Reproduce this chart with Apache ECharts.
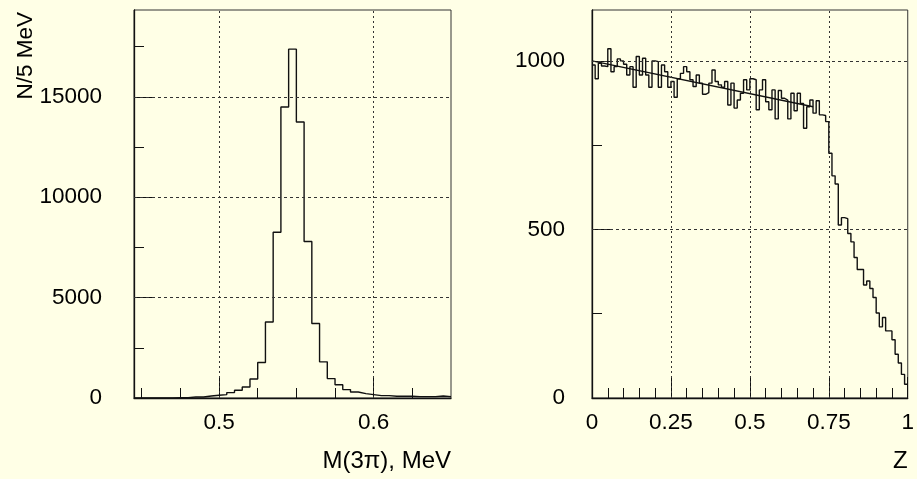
<!DOCTYPE html>
<html><head><meta charset="utf-8">
<script src="https://cdn.jsdelivr.net/npm/echarts@6/dist/echarts.min.js"></script>
<style>html,body{margin:0;padding:0;background:#ffffe6}#c{width:917px;height:479px}</style>
</head><body><div id="c"></div>
<script>
// ---- data ----
const massBinStart = 0.445;
const massBinWidth = 0.005;
const massCounts = [0, 0, 0, 0, 5, 20, 20, 50, 50, 100, 135, 170, 270, 384, 548, 950, 1765, 3789, 8260, 14500,
  17380, 13750, 7800, 3709, 1800, 967, 660, 419, 300, 219, 170, 120, 120, 85, 85, 85, 70, 70, 70, 100, 70];
const zBinStart = 0;
const zBinWidth = 0.01;
const zCounts = [988, 947, 993, 985, 983, 1036, 968, 983, 1006, 1000,
  990, 958, 983, 922, 1013, 958, 1008, 958, 922, 1000,
  998, 922, 988, 968, 922, 939, 892, 947, 963, 983,
  968, 944, 924, 958, 934, 901, 906, 934, 973, 939,
  929, 922, 939, 869, 934, 860, 884, 904, 944, 914,
  947, 944, 855, 914, 944, 879, 855, 914, 828, 912,
  889, 884, 828, 904, 852, 904, 874, 800, 864, 884,
  845, 882, 840, 838, 820, 726, 659, 635, 513, 535,
  532, 488, 463, 417, 381, 381, 335, 347, 325, 298,
  252, 211, 239, 199, 199, 173, 130, 104, 70, 41];
const fitZ = [0, 0.7];
const fitCounts = [1000, 864];
const massLabelTicks = [0.5, 0.6];
const massMinorTicks = [0.45, 0.475, 0.525, 0.55, 0.575, 0.625];
const countLabelTicks = [0, 5000, 10000, 15000];
const countMinorTicks = [2500, 7500, 12500, 17500];
const zCountLabelTicks = [0, 500, 1000];
const zCountMinorTicks = [250, 750];

// ---- helpers ----
function histPoints(start, width, counts) {
  const pts = counts.map((v, i) => [start + i * width, v]);
  pts.push([start + counts.length * width, counts[counts.length - 1]]);
  return pts;
}
const FONT = 'Liberation Sans, Arial, sans-serif';
const FS = 22.5;
const NAME_FS = 24;
const ink = '#111';
const gridDotV = { color: '#333', width: 1, type: [2, 3] };
const gridDashH = { color: '#333', width: 1, type: [3, 3] };
const plain = v => String(+(+v).toFixed(3));

function mainAxisCommon(extra) {
  return Object.assign({
    type: 'value',
    axisLine: { show: true, lineStyle: { color: ink, width: 1.3 } },
    splitLine: { show: false }
  }, extra);
}
function minorAxis(extra) {
  return Object.assign({
    type: 'value',
    axisLine: { show: false },
    splitLine: { show: false },
    axisLabel: { show: false }
  }, extra);
}
function labelStyle(margin, values) {
  const s = { color: '#000', fontSize: FS, fontFamily: FONT, margin: margin, formatter: plain };
  if (values) s.customValues = values;
  return s;
}

const option = {
  backgroundColor: '#ffffe6',
  animation: false,
  grid: [
    { left: 134, right: 466, top: 10, bottom: 81, show: true, borderColor: '#333', borderWidth: 1, backgroundColor: 'transparent' },
    { left: 592, right: 7, top: 10, bottom: 81, show: true, borderColor: '#333', borderWidth: 1, backgroundColor: 'transparent' }
  ],
  xAxis: [
    mainAxisCommon({
      gridIndex: 0, min: 0.445, max: 0.65, position: 'bottom',
      axisTick: { show: true, inside: true, length: 21, customValues: massLabelTicks, lineStyle: { color: ink } },
      axisLabel: labelStyle(13, massLabelTicks),
      name: 'M(3π), MeV', nameLocation: 'end', nameGap: 0,
      nameTextStyle: { color: '#000', fontSize: NAME_FS, fontFamily: FONT, align: 'right', verticalAlign: 'top', padding: [51, 0, 0, 0] }
    }),
    minorAxis({
      gridIndex: 0, min: 0.445, max: 0.65, position: 'bottom', offset: 0,
      axisTick: { show: true, inside: true, length: 10, customValues: massMinorTicks, lineStyle: { color: ink } }
    }),
    mainAxisCommon({
      gridIndex: 1, min: 0, max: 1, interval: 0.25, position: 'bottom',
      axisTick: { show: true, inside: true, length: 21, lineStyle: { color: ink } },
      minorTick: { show: true, splitNumber: 5, length: 10, lineStyle: { color: ink } },
      axisLabel: Object.assign(labelStyle(13), { showMinLabel: true, showMaxLabel: true }),
      name: 'Z', nameLocation: 'end', nameGap: 0,
      nameTextStyle: { color: '#000', fontSize: NAME_FS, fontFamily: FONT, align: 'right', verticalAlign: 'top', padding: [51, 0, 0, 0] }
    })
  ],
  yAxis: [
    mainAxisCommon({
      gridIndex: 0, min: 0, max: 19330, position: 'left',
      axisTick: { show: true, inside: true, length: 21, customValues: countLabelTicks, lineStyle: { color: ink } },
      axisLabel: labelStyle(32, countLabelTicks)
    }),
    minorAxis({
      gridIndex: 0, min: 0, max: 19330, position: 'left', offset: 0,
      axisTick: { show: true, inside: true, length: 10, customValues: countMinorTicks, lineStyle: { color: ink } }
    }),
    mainAxisCommon({
      gridIndex: 1, min: 0, max: 1151, position: 'left',
      axisTick: { show: true, inside: true, length: 21, customValues: zCountLabelTicks, lineStyle: { color: ink } },
      axisLabel: labelStyle(27, zCountLabelTicks)
    }),
    minorAxis({
      gridIndex: 1, min: 0, max: 1151, position: 'left', offset: 0,
      axisTick: { show: true, inside: true, length: 10, customValues: zCountMinorTicks, lineStyle: { color: ink } }
    })
  ],
  graphic: [
    { type: 'text', x: 26, y: 12, rotation: Math.PI / 2,
      style: { text: 'N/5 MeV', fill: '#000', font: FS + 'px ' + FONT, textAlign: 'right', textVerticalAlign: 'middle' } }
  ],
  series: [
    {
      type: 'line', xAxisIndex: 0, yAxisIndex: 0, step: 'end', symbol: 'none',
      lineStyle: { color: ink, width: 1.4 },
      data: histPoints(massBinStart, massBinWidth, massCounts),
      markLine: {
        silent: true, symbol: ['none', 'none'], label: { show: false },
        data: massLabelTicks.map(v => ({ xAxis: v, lineStyle: gridDotV }))
          .concat(countLabelTicks.slice(1).map(v => ({ yAxis: v, lineStyle: gridDashH })))
      }
    },
    {
      type: 'line', xAxisIndex: 2, yAxisIndex: 2, step: 'end', symbol: 'none',
      lineStyle: { color: ink, width: 1.4 },
      data: histPoints(zBinStart, zBinWidth, zCounts),
      markLine: {
        silent: true, symbol: ['none', 'none'], label: { show: false },
        data: [0.25, 0.5, 0.75].map(v => ({ xAxis: v, lineStyle: gridDotV }))
          .concat(zCountLabelTicks.slice(1).map(v => ({ yAxis: v, lineStyle: gridDashH })))
      }
    },
    {
      type: 'line', xAxisIndex: 2, yAxisIndex: 2, symbol: 'none',
      lineStyle: { color: ink, width: 1.4 },
      data: fitZ.map((z, i) => [z, fitCounts[i]])
    }
  ]
};
const chart = echarts.init(document.getElementById('c'), null, { renderer: 'canvas' });
chart.setOption(option);
</script>
</body></html>
